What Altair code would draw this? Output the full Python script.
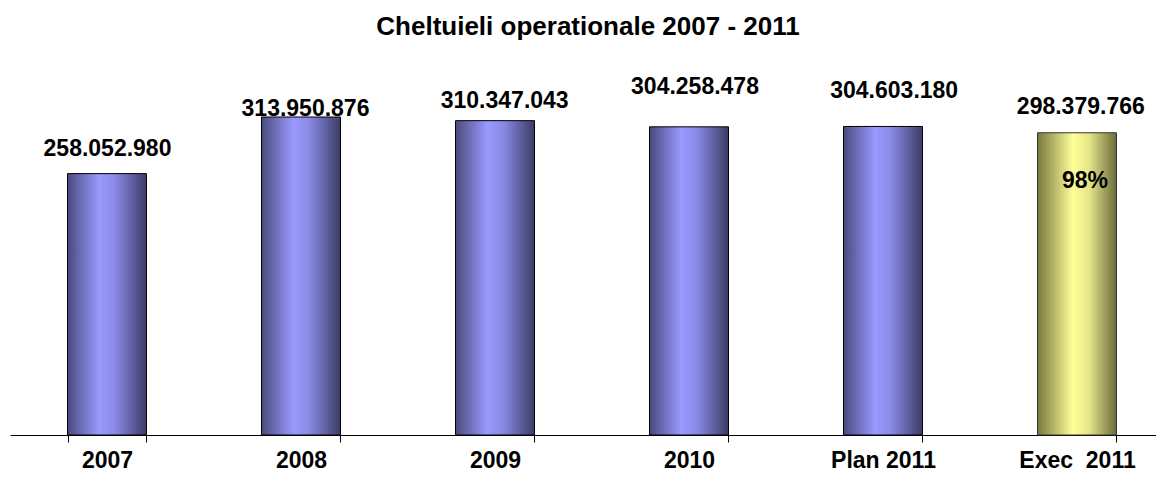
import altair as alt
import pandas as pd

# ---- data ----
categories = ["2007", "2008", "2009", "2010", "Plan 2011", "Exec\u00a0 2011"]
values = [258052980, 313950876, 310347043, 304258478, 304603180, 298379766]
# manual label nudges (pixels) as placed in the original chart
label_dx = [0.5, 4.5, 9.7, 6, 11.2, 3.8]
label_dy = [-18, -1, -12.7, -33, -28, -18.7]

FONT = "Liberation Sans"
Y_MAX = 372200000
PLOT_H = 377
RANGE_W = 1164
N = len(categories)
P_INNER = 0.593
HALF_BAR = RANGE_W / N * (1 - P_INNER) / 2

labels = [f"{v:,}".replace(",", ".") for v in values]
df = pd.DataFrame({
    "cat": categories,
    "value": values,
    "label": labels,
    "dx": label_dx,
    "dy": label_dy,
    "is_exec": [c.startswith("Exec") for c in categories],
})
pct_text = f"{round(values[-1] / values[-2] * 100)}%"
df_pct = pd.DataFrame({"cat": [categories[-1]], "value": [values[-1]], "txt": [pct_text]})

blue_grad = alt.LinearGradient(
    gradient="linear", x1=0, x2=1, y1=0, y2=0,
    stops=[alt.GradientStop(offset=0, color="#4a4a7e"),
           alt.GradientStop(offset=0.4, color="#9999ff"),
           alt.GradientStop(offset=0.6, color="#8a8ae6"),
           alt.GradientStop(offset=1, color="#3c3c66")])
yellow_grad = alt.LinearGradient(
    gradient="linear", x1=0, x2=1, y1=0, y2=0,
    stops=[alt.GradientStop(offset=0, color="#78783e"),
           alt.GradientStop(offset=0.45, color="#ffff99"),
           alt.GradientStop(offset=0.65, color="#e6e68a"),
           alt.GradientStop(offset=1, color="#6b6b3a")])

x = alt.X("cat:N", sort=categories, title=None,
          scale=alt.Scale(range=[0, RANGE_W], paddingInner=P_INNER, paddingOuter=P_INNER / 2),
          axis=alt.Axis(labelAngle=0, labelFont=FONT, labelFontSize=23,
                        labelFontWeight="bold", labelColor="#000",
                        labelBaseline="alphabetic", labelPadding=25,
                        domainColor="#000", tickColor="#000", tickSize=7,
                        tickBand="extent", grid=False))
y = alt.Y("value:Q", title=None,
          scale=alt.Scale(domain=[0, Y_MAX], nice=False, zero=True),
          axis=None)

base = alt.Chart(df)

bars_blue = base.transform_filter("!datum.is_exec").mark_bar(
    color=blue_grad, stroke="#000", strokeWidth=1).encode(x=x, y=y)
bars_yellow = base.transform_filter("datum.is_exec").mark_bar(
    color=yellow_grad, stroke="#333", strokeWidth=1).encode(x=x, y=y)

value_labels = base.transform_calculate(
    ly=f"datum.value - datum.dy * {Y_MAX / PLOT_H}",
    lx=f"datum.dx + {HALF_BAR}",
).mark_text(
    font=FONT, fontSize=23, fontWeight="bold", color="#000",
    baseline="alphabetic", align="center").encode(
    x=x,
    y=alt.Y("ly:Q", scale=alt.Scale(domain=[0, Y_MAX], nice=False, zero=True), axis=None),
    xOffset=alt.XOffset("lx:Q", scale=None),
    text="label:N")

pct_label = alt.Chart(df_pct).mark_text(
    font=FONT, fontSize=23, fontWeight="bold", color="#000",
    baseline="alphabetic", align="center", dx=8, dy=55).encode(
    x=x, y=y, text="txt:N")

chart = alt.layer(bars_blue, bars_yellow, value_labels, pct_label).properties(
    width=1146, height=PLOT_H,
    title=alt.TitleParams("Cheltuieli operationale 2007 - 2011", font=FONT,
                          fontSize=26, fontWeight="bold", color="#000",
                          anchor="middle", offset=18, dx=5),
    autosize=alt.AutoSizeParams(type="none"),
    padding={"left": 2, "top": 50, "right": 0, "bottom": 36},
).configure_view(stroke=None)

chart.save("out.html", embed_options={"renderer": "svg", "actions": False})
